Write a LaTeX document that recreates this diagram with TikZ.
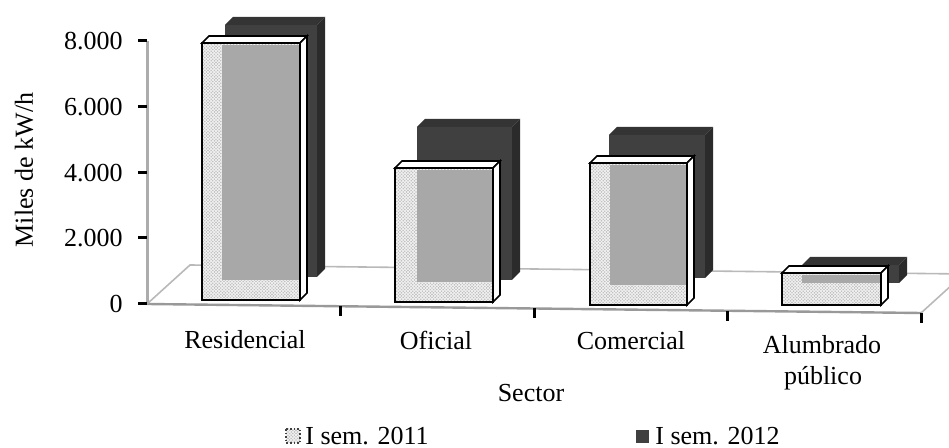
\documentclass[tikz,border=0pt]{standalone}
\usepackage{fontspec}
\setmainfont{Liberation Serif}
\usetikzlibrary{patterns}

\definecolor{darkfront}{HTML}{404040}
\definecolor{darktop}{HTML}{343434}
\definecolor{darkside}{HTML}{2B2B2B}
\definecolor{seen}{HTML}{A8A8A8}

% fine grain for the 2011 bars
\pgfdeclarepatternformonly{grain}{\pgfqpoint{-0.5pt}{-0.5pt}}{\pgfqpoint{2pt}{2pt}}{\pgfqpoint{1.6pt}{1.6pt}}{
  \pgfpathcircle{\pgfqpoint{0pt}{0pt}}{0.45pt}
  \pgfpathcircle{\pgfqpoint{0.8pt}{0.8pt}}{0.45pt}
  \pgfusepath{fill}
}

\tikzset{
  lbl/.style={font=\fontsize{13}{15}\selectfont, inner sep=0pt},
  floorline/.style={draw=gray!55, line width=0.8pt},
  frontline/.style={draw=gray!80, line width=1.2pt},
  axisline/.style={draw=gray!65, line width=1.5pt},
  tick/.style={draw=black, line width=1.5pt},
  glass/.style={pattern=grain, pattern color=gray!50},
  edge/.style={draw=black, line width=0.8pt},
}

\begin{document}
\begin{tikzpicture}[x=0.5pt,y=-0.5pt]
   \useasboundingbox (0,0) rectangle (949,448);
   \clip (0,0) rectangle (949,448);

   % floor and axes
   \fill[white] (147,304) -- (190,265) -- (964,274) -- (921,313) -- cycle;
   \draw[floorline] (147,304) -- (190,265) -- (964,274);
   \draw[floorline] (921,313) -- (964,274);
   \draw[frontline] (147,304) -- (921,313);
   \draw[axisline] (147,41) -- (147,304);
     \draw[tick] (138,41) -- (147,41);
     \draw[tick] (138,107) -- (147,107);
     \draw[tick] (138,173) -- (147,173);
     \draw[tick] (138,238) -- (147,238);
     \draw[tick] (138,304) -- (147,304);
     \draw[tick] (340,306) -- (340,316);
     \draw[tick] (534,308) -- (534,318);
     \draw[tick] (727,311) -- (727,321);
     \draw[tick] (921,313) -- (921,323);

   % I sem. 2012
   \fill[darkfront] (225,25) rectangle (317,277);
   \fill[darktop] (225,25) -- (233,17) -- (325,17) -- (317,25) -- cycle;
   \fill[darkside] (317,25) -- (325,17) -- (325,269) -- (317,277) -- cycle;
   \fill[darkfront] (417,127) rectangle (512,280);
   \fill[darktop] (417,127) -- (425,119) -- (520,119) -- (512,127) -- cycle;
   \fill[darkside] (512,127) -- (520,119) -- (520,272) -- (512,280) -- cycle;
   \fill[darkfront] (609,135) rectangle (705,278);
   \fill[darktop] (609,135) -- (617,127) -- (713,127) -- (705,135) -- cycle;
   \fill[darkside] (705,135) -- (713,127) -- (713,270) -- (705,278) -- cycle;
   \fill[darkfront] (802,265) rectangle (899,283);
   \fill[darktop] (802,265) -- (810,257) -- (907,257) -- (899,265) -- cycle;
   \fill[darkside] (899,265) -- (907,257) -- (907,275) -- (899,283) -- cycle;

   % I sem. 2011
   \fill[gray!8] (202,43) rectangle (300,300);
   \fill[glass] (202,43) rectangle (300,300);
   \fill[seen] (222,45) rectangle (300,280);
   \draw[edge] (202,43) rectangle (300,300);
   \draw[edge,fill=white] (202,43) -- (209,36) -- (307,36) -- (300,43) -- cycle;
   \draw[edge,fill=white] (300,43) -- (307,36) -- (307,293) -- (300,300) -- cycle;

   \fill[gray!8] (395,168) rectangle (493,302);
   \fill[glass] (395,168) rectangle (493,302);
   \fill[seen] (417,170) rectangle (493,282);
   \draw[edge] (395,168) rectangle (493,302);
   \draw[edge,fill=white] (395,168) -- (402,161) -- (500,161) -- (493,168) -- cycle;
   \draw[edge,fill=white] (493,168) -- (500,161) -- (500,295) -- (493,302) -- cycle;

   \fill[gray!8] (590,163) rectangle (687,305);
   \fill[glass] (590,163) rectangle (687,305);
   \fill[seen] (610,165) rectangle (687,285);
   \draw[edge] (590,163) rectangle (687,305);
   \draw[edge,fill=white] (590,163) -- (597,156) -- (694,156) -- (687,163) -- cycle;
   \draw[edge,fill=white] (687,163) -- (694,156) -- (694,298) -- (687,305) -- cycle;

   \fill[gray!8] (782,273) rectangle (881,305);
   \fill[glass] (782,273) rectangle (881,305);
   \fill[seen] (802,275) rectangle (881,283);
   \draw[edge] (782,273) rectangle (881,305);
   \draw[edge,fill=white] (782,273) -- (789,266) -- (888,266) -- (881,273) -- cycle;
   \draw[edge,fill=white] (881,273) -- (888,266) -- (888,298) -- (881,305) -- cycle;

   % labels
   \draw (123,41) node[lbl,anchor=east] (l8000) {8.000};
   \draw (123,107) node[lbl,anchor=east] (l6000) {6.000};
   \draw (123,173) node[lbl,anchor=east] (l4000) {4.000};
   \draw (123,238) node[lbl,anchor=east] (l2000) {2.000};
   \draw (123,304) node[lbl,anchor=east] (l0) {0};
   \draw (24,170) node[lbl,rotate=90] (miles) {Miles de kW/h};

   \draw (245,340) node[lbl] (residencial) {Residencial};
   \draw (436,340) node[lbl] (oficial) {Oficial};
   \draw (631,341) node[lbl] (comercial) {Comercial};
   \draw (822,345) node[lbl] (alumbrado) {Alumbrado};
   \draw (823,378) node[lbl] (publico) {público};
   \draw (531,393) node[lbl] (sector) {Sector};

   % legend
   \fill[gray!8] (286,429) rectangle (300,443);
   \fill[glass] (286,429) rectangle (300,443);
   \draw[black!75, line width=0.8pt, densely dotted] (286,429) rectangle (300,443);
   \draw (305,436) node[lbl,anchor=west] (sem11) {I sem. 2011};
   \fill[darkfront] (636,430) rectangle (649,443);
   \draw (655,436) node[lbl,anchor=west] (sem12) {I sem. 2012};
\end{tikzpicture}
\end{document}
